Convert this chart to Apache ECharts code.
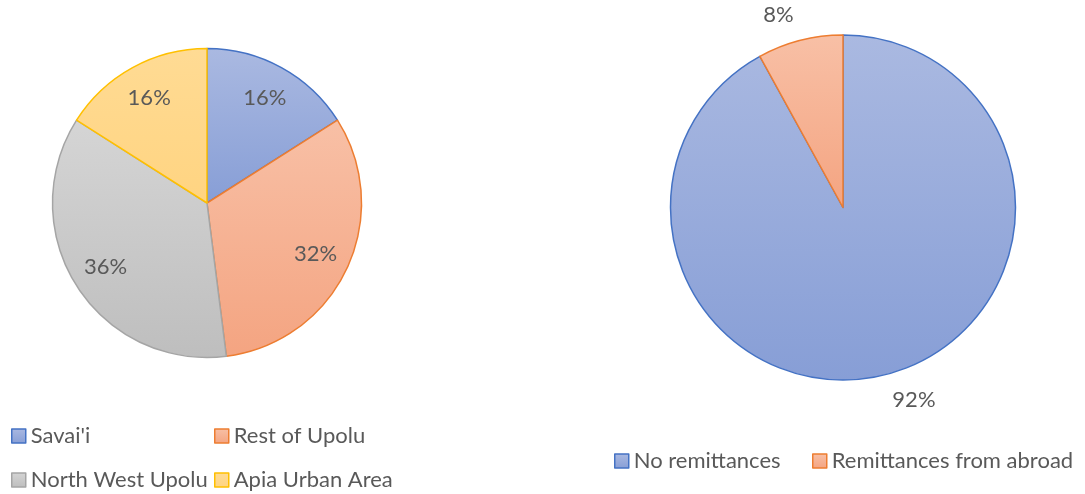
<!DOCTYPE html>
<html>
<head>
<meta charset="utf-8">
<script src="https://cdn.jsdelivr.net/npm/echarts@6/dist/echarts.min.js"></script>
<style>
  html, body { margin: 0; padding: 0; background: #ffffff; }
  #chart { width: 1085px; height: 494px; }
</style>
</head>
<body>
<div id="chart"></div>
<script>
// Household location shares (%)
const regionNames = ["Savai'i", "Rest of Upolu", "North West Upolu", "Apia Urban Area"];
const regionShares = [16, 32, 36, 16];

// Households receiving remittances (%)
const remitNames = ["No remittances", "Remittances from abroad"];
const remitShares = [92, 8];

const FONT = 'Lato';
const TEXT = '#595959';

// Office-style vertical gradient fills with a solid accent outline
const palette = {
  blue:   { top: '#aab9e1', bottom: '#879ed6', line: '#4472c4' },
  orange: { top: '#f8c0a6', bottom: '#f4a481', line: '#ed7d31' },
  gray:   { top: '#d5d5d5', bottom: '#bebebe', line: '#a5a5a5' },
  yellow: { top: '#ffdb94', bottom: '#ffd481', line: '#ffc000' }
};
function fill(p) {
  return {
    type: 'linear', x: 0, y: 0, x2: 0, y2: 1,
    colorStops: [{ offset: 0, color: p.top }, { offset: 1, color: p.bottom }]
  };
}
function items(names, values, keys) {
  return names.map((n, i) => ({
    name: n,
    value: values[i],
    itemStyle: { color: fill(palette[keys[i]]), borderColor: palette[keys[i]].line, borderWidth: 1.5 }
  }));
}

const regionKeys = ['blue', 'orange', 'gray', 'yellow'];
const remitKeys = ['blue', 'orange'];

// one legend entry per box so each sits at its own grid slot
function legendAt(name, left, top) {
  return {
    data: [name],
    left: left,
    top: top,
    padding: 0,
    icon: 'rect',
    itemWidth: 14,
    itemHeight: 14,
    itemStyle: { borderWidth: 1.5, borderColor: 'inherit' },
    textStyle: { fontFamily: FONT, fontSize: 22, color: TEXT, lineHeight: 24 },
    selectedMode: false
  };
}

const chart = echarts.init(document.getElementById('chart'), null, { renderer: 'canvas' });
chart.setOption({
  animation: false,
  backgroundColor: '#ffffff',
  legend: [
    legendAt(regionNames[0], 11, 424),
    legendAt(regionNames[1], 214, 424),
    legendAt(regionNames[2], 11, 468),
    legendAt(regionNames[3], 214, 468),
    legendAt(remitNames[0], 614, 449),
    legendAt(remitNames[1], 812, 449)
  ],
  series: [
    {
      name: 'Location',
      type: 'pie',
      center: [207, 203],
      radius: 154.5,
      startAngle: 90,
      clockwise: true,
      label: { show: false },
      labelLine: { show: false },
      emphasis: { disabled: true },
      data: items(regionNames, regionShares, regionKeys)
    },
    {
      // label ring: places the percentages about three quarters of the way out
      name: 'Location labels',
      type: 'pie',
      silent: true,
      center: [207, 203],
      radius: [100, 134],
      startAngle: 90,
      clockwise: true,
      itemStyle: { color: 'rgba(0,0,0,0)', borderWidth: 0 },
      label: {
        show: true,
        position: 'inside',
        formatter: p => p.value + '%',
        fontFamily: FONT,
        fontSize: 22,
        color: TEXT
      },
      labelLine: { show: false },
      emphasis: { disabled: true },
      data: regionNames.map((n, i) => ({ name: n, value: regionShares[i] }))
    },
    {
      name: 'Remittances',
      type: 'pie',
      center: [843, 207.5],
      radius: 172.5,
      startAngle: 90,
      clockwise: true,
      avoidLabelOverlap: false,
      label: {
        show: true,
        position: 'outside',
        formatter: p => p.value + '%',
        fontFamily: FONT,
        fontSize: 22,
        color: TEXT,
        distanceToLabelLine: 0
      },
      labelLine: { show: false, length: 26, length2: 0 },
      emphasis: { disabled: true },
      data: items(remitNames, remitShares, remitKeys)
    }
  ]
});
</script>
</body>
</html>
